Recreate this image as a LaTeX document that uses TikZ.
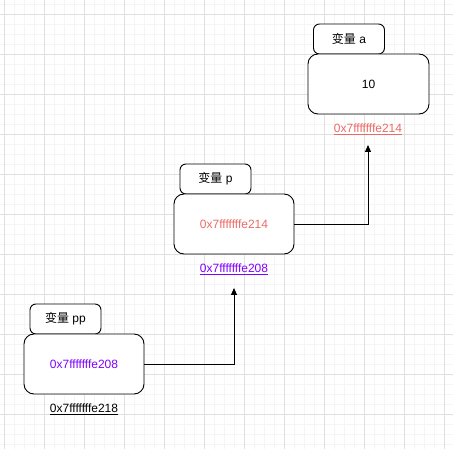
\documentclass[tikz,border=0pt]{standalone}
\usepackage{fontspec}
\setmainfont{Liberation Sans}
\newfontfamily\cjk{Noto Sans CJK SC}
\usetikzlibrary{arrows.meta}
\definecolor{minorgrid}{HTML}{F5F5F5}
\definecolor{majorgrid}{HTML}{E0E0E0}
\definecolor{addrred}{HTML}{EA6B66}
\definecolor{addrpurple}{HTML}{7F00FF}
\tikzset{
  mainbox/.style={draw=black, fill=white, rounded corners=10pt, line width=0.9pt,
    minimum width=120pt, minimum height=60pt, inner sep=0pt, font=\fontsize{12}{14}\selectfont},
  namebox/.style={draw=black, fill=white, rounded corners=6pt, line width=0.9pt,
    minimum width=71pt, minimum height=30pt, inner sep=0pt, font=\fontsize{12}{14}\selectfont},
  addr/.style={inner sep=0pt, font=\fontsize{12}{14}\selectfont},
  link/.style={draw=black, line width=0.9pt, -{Triangle[length=7pt,width=6pt]}},
}
\begin{document}
\begin{tikzpicture}[x=1pt,y=-1pt]
\useasboundingbox (0,0) rectangle (453,449);
\fill[white] (0,0) rectangle (453,449);
% grid
\foreach \i in {4,14,...,453} \draw[minorgrid, line width=0.6pt] (\i,0) -- (\i,449);
\foreach \j in {4,14,...,449} \draw[minorgrid, line width=0.6pt] (0,\j) -- (453,\j);
\foreach \i in {4,44,...,453} \draw[majorgrid, line width=0.8pt] (\i,0) -- (\i,449);
\foreach \j in {14,54,...,449} \draw[majorgrid, line width=0.8pt] (0,\j) -- (453,\j);

% variable a
\node[namebox] (na) at (349,39) {{\cjk 变量} a};
\node[mainbox, minimum width=121pt] (ma) at (368.5,84) {10};
\node[addr, text=addrred] (aa) at (368,129) {\underline{0x7fffffffe214}};

% variable p
\node[namebox] (np) at (215.5,179) {{\cjk 变量} p};
\node[mainbox] (mp) at (234,224) {\textcolor{addrred}{0x7fffffffe214}};
\node[addr, text=addrpurple] (ap) at (234,269) {\underline{0x7fffffffe208}};

% variable pp
\node[namebox] (npp) at (65.5,319) {{\cjk 变量} pp};
\node[mainbox] (mpp) at (84,364) {\textcolor{addrpurple}{0x7fffffffe208}};
\node[addr] (app) at (84,409) {\underline{0x7fffffffe218}};

% links
\coordinate (tp) at (234,288);
\coordinate (ta) at (368,145);
\draw[link] (mpp.east) -| (tp);
\draw[link] (mp.east) -| (ta);
\end{tikzpicture}
\end{document}
